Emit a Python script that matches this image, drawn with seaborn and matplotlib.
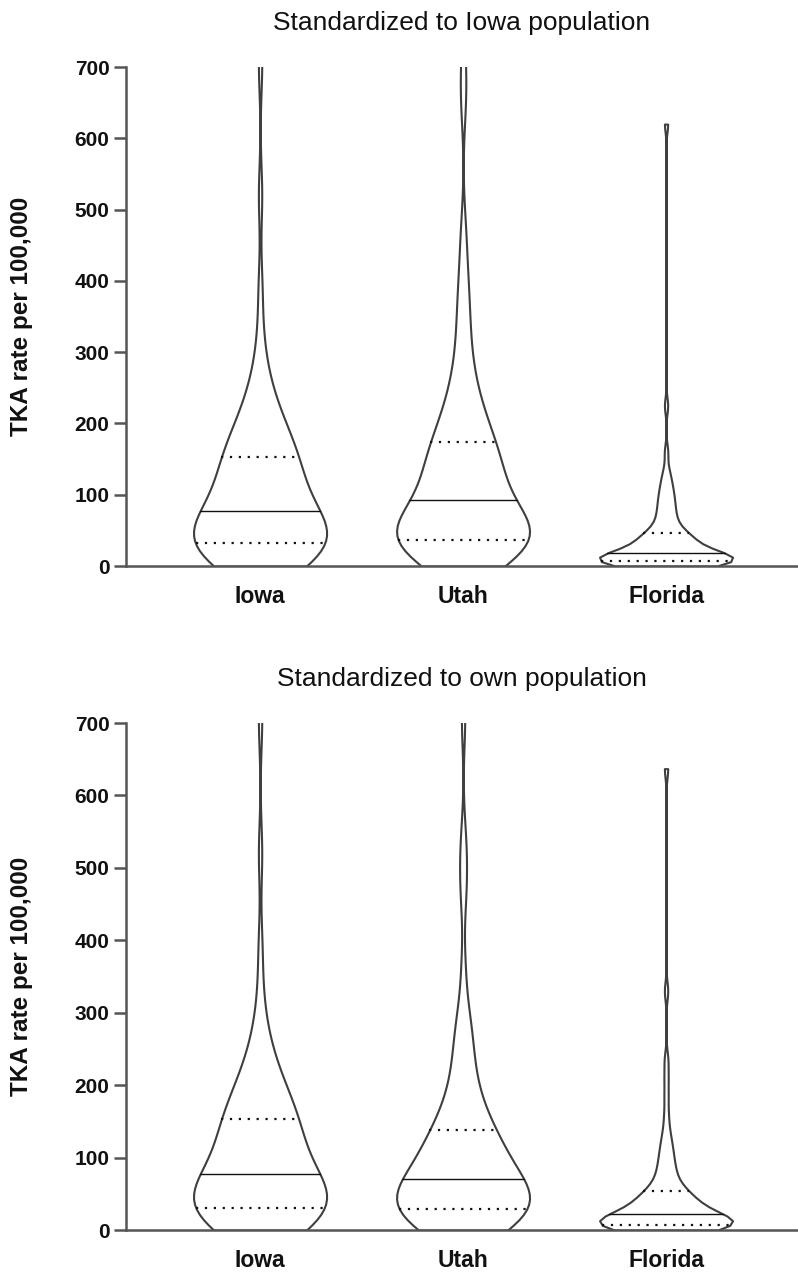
import numpy as np
import pandas as pd
import seaborn as sns
import matplotlib.pyplot as plt

# categories and panel titles
states = ["Iowa", "Utah", "Florida"]
titles = ["Standardized to Iowa population", "Standardized to own population"]

# TKA rate per 100,000, standardized to the Iowa population (top panel)
iowa_std_iowa = [0, 2, 4, 6, 8, 10, 12, 13, 15, 16, 18, 19, 21, 22, 24, 25, 27, 28, 30, 31,
                 32, 34, 36, 38, 40, 42, 44, 46, 48, 50, 53, 55, 57, 59, 62, 64, 67, 70, 72, 75,
                 77, 81, 85, 89, 93, 97, 101, 105, 109, 113, 117, 121, 125, 129, 133, 137, 141,
                 145, 149, 151,
                 153, 157, 162, 167, 172, 177, 182, 187, 193, 199, 206, 215, 224, 234, 245, 260,
                 282, 320, 390, 520, 705]
utah_std_iowa = [0, 4, 8, 12, 15, 18, 20, 22, 24, 26, 27, 28, 29, 30, 31, 32, 33, 34, 35, 36,
                 37, 40, 42, 44, 46, 48, 50, 52, 54, 56, 58, 60, 62, 64, 67, 70, 74, 78, 83, 88,
                 92, 96, 100, 104, 108, 112, 116, 120, 124, 128, 133, 137, 141, 145, 149, 153,
                 158, 163, 167, 171,
                 174, 180, 187, 194, 201, 208, 216, 224, 233, 242, 258, 272, 288, 310, 335, 360,
                 385, 420, 470, 650, 705]
florida_std_iowa = [0, 0.5, 1, 1.5, 2, 2.5, 3, 3.3, 3.6, 4, 4.3, 4.6, 5, 5.3, 5.6, 6, 6.2, 6.5,
                    6.7, 6.9,
                    7, 7.5, 8, 8.5, 9, 9.5, 10, 10.5, 11, 11.5, 12, 12.5, 13, 13.6, 14.2, 14.8,
                    15.4, 16, 16.7, 17.4,
                    18, 19.3, 20.6, 22, 23.4, 24.8, 26.2, 27.6, 29, 30.5, 32, 33.5, 35, 36.5, 38,
                    39.5, 41, 42.5, 44, 45,
                    46, 48, 52, 56, 60, 64, 68, 72, 77, 82, 87, 92, 97, 103, 109, 116, 124, 135,
                    160, 225, 620]

# TKA rate per 100,000, standardized to each state's own population (bottom panel)
iowa_std_own = [0, 2, 4, 6, 8, 10, 12, 13, 15, 16, 18, 19, 21, 22, 24, 25, 27, 28, 29, 30,
                31, 34, 36, 38, 40, 42, 44, 46, 48, 50, 53, 55, 57, 59, 62, 64, 67, 70, 72, 75,
                77, 81, 85, 89, 93, 97, 101, 105, 109, 113, 117, 121, 125, 129, 133, 137, 141,
                145, 149, 151,
                153, 157, 162, 167, 172, 177, 182, 187, 193, 199, 206, 215, 224, 234, 245, 260,
                282, 320, 390, 520, 705]
utah_std_own = [0, 2.5, 5, 7, 9, 11, 12.5, 14, 15.5, 17, 18.5, 20, 21.5, 23, 24, 25, 26, 27,
                28, 28.5,
                29, 31, 33, 35, 37.5, 39.5, 41.5, 43.5, 45.5, 48, 50, 52, 54, 56, 58.5, 60.5,
                62.5, 64.5, 66.5, 68.5,
                70, 73, 77, 80, 84, 87, 91, 94, 98, 101, 105, 108, 112, 115, 119, 122, 126, 129,
                133, 136,
                138, 145, 152, 159, 166, 174, 182, 191, 200, 212, 225, 240, 255, 270, 285, 300,
                360, 460, 500, 540, 705]
florida_std_own = [0, 0.5, 1, 1.5, 2, 2.5, 3, 3.3, 3.6, 4, 4.3, 4.6, 5, 5.3, 5.6, 6, 6.2, 6.5,
                   6.7, 6.9,
                   7, 7.7, 8.4, 9.1, 9.8, 10.5, 11.2, 12, 12.8, 13.6, 14.4, 15.2, 16, 16.8,
                   17.6, 18.4, 19.2, 20, 20.7, 21.4,
                   22, 23.5, 25, 26.5, 28, 29.5, 31, 32.5, 34, 35.5, 37, 38.5, 40, 41.5, 43, 45,
                   47, 49, 51, 52.5,
                   54, 57, 61, 65, 69, 74, 79, 84, 90, 96, 103, 110, 118, 127, 140, 160, 185,
                   210, 235, 330, 637]

panels = [
    {"Iowa": iowa_std_iowa, "Utah": utah_std_iowa, "Florida": florida_std_iowa},
    {"Iowa": iowa_std_own, "Utah": utah_std_own, "Florida": florida_std_own},
]
bw_adjust = {"Iowa": 0.85, "Utah": 0.7, "Florida": 0.35}

edge = "#3f3f3f"
axis_col = "#555555"

sns.set_style("ticks")
plt.rcParams["font.family"] = ["Liberation Sans", "DejaVu Sans"]

fig = plt.figure(figsize=(7.98, 12.72), dpi=100)
axes = [fig.add_axes([0.158, 0.555, 0.842, 0.3923]),
        fig.add_axes([0.158, 0.033, 0.842, 0.3986])]

for ax, panel, title in zip(axes, panels, titles):
    df = pd.DataFrame([(s, v) for s in states for v in panel[s]], columns=["state", "rate"])
    for s in states:
        sns.violinplot(data=df[df["state"] == s], x="state", y="rate", order=states, ax=ax,
                       cut=0, inner="quart", density_norm="width", width=0.655,
                       bw_adjust=bw_adjust[s], color="white", linecolor=edge, linewidth=1.5)
    # quartiles dotted, median solid
    for i, line in enumerate(ax.lines):
        if i % 3 == 1:
            line.set_linestyle("-")
            line.set_linewidth(1.0)
        else:
            line.set_linestyle((0, (1, 3)))
            line.set_linewidth(1.6)
        line.set_color("#111111")

    ax.set_xlim(-0.66, 2.65)
    ax.set_ylim(0, 700)
    ax.set_yticks(range(0, 701, 100))
    ax.set_xlabel("")
    ax.set_ylabel("TKA rate per 100,000", fontsize=17.5, fontweight="bold", color="#111111")
    ax.yaxis.set_label_coords(-0.138, 0.5)
    ax.set_title(title, fontsize=19, pad=27, color="#111111")
    sns.despine(ax=ax)
    for sp in ["left", "bottom"]:
        ax.spines[sp].set_color(axis_col)
        ax.spines[sp].set_linewidth(1.8)
    ax.tick_params(axis="y", length=9, width=1.8, color=axis_col, pad=3, labelsize=15,
                   labelcolor="#111111")
    ax.tick_params(axis="x", length=0, pad=14, labelsize=16.5, labelcolor="#111111")
    for lab in ax.get_xticklabels() + ax.get_yticklabels():
        lab.set_fontweight("bold")

fig.savefig("out.png", dpi=100)
